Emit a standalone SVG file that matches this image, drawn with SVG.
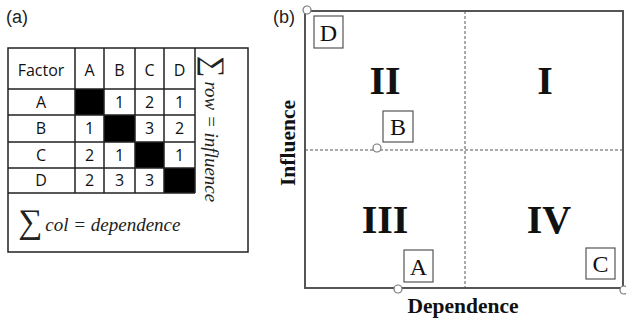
<svg xmlns="http://www.w3.org/2000/svg" width="626" height="320" viewBox="0 0 626 320">
<style>
.sans{font-family:"Open Sans","Liberation Sans",sans-serif;font-size:16px;fill:#111;text-anchor:middle}
.lbl{font-family:"Liberation Sans",Arial,sans-serif;font-size:18px;fill:#222}
.math{font-family:"Liberation Serif","Times New Roman",serif;font-style:italic;font-size:19px;fill:#222}
.tl{fill:none;stroke:#222;stroke-width:1.5}
.blk{fill:#000}
.frame{fill:none;stroke:#555;stroke-width:2}
.dash{stroke:#555;stroke-width:1;stroke-dasharray:3,2;fill:none}
.roman{font-family:"Liberation Serif","Times New Roman",serif;font-weight:bold;font-size:40px;fill:#111;text-anchor:middle}
.ax{font-family:"Liberation Serif","Times New Roman",serif;font-weight:bold;font-size:21.5px;fill:#111;text-anchor:middle}
.box{fill:#fff;stroke:#555;stroke-width:1.2}
.bl{font-family:"Liberation Serif","Times New Roman",serif;font-size:24px;fill:#111;text-anchor:middle}
.pt{fill:#fff;stroke:#777;stroke-width:1.2}
</style>
<g id="panel-a">
<text class="lbl" x="6" y="23">(a)</text>
<rect class="tl" x="8" y="48" width="240" height="204"/>
<g id="table">
<rect class="blk" x="75" y="89" width="29" height="26"/>
<rect class="blk" x="104" y="115" width="31" height="27"/>
<rect class="blk" x="135" y="142" width="29" height="26"/>
<rect class="blk" x="164" y="168" width="31" height="25"/>
<path class="tl" d="M8 89H195M8 115H195M8 142H195M8 168H195M8 193H195M75 48V193M104 48V193M135 48V193M164 48V193M195 48V193"/>
<text class="sans" x="41" y="76">Factor</text>
<text class="sans" x="89.5" y="76">A</text>
<text class="sans" x="119.5" y="76">B</text>
<text class="sans" x="149.5" y="76">C</text>
<text class="sans" x="179.5" y="76">D</text>
<text class="sans" x="41" y="108">A</text>
<text class="sans" x="41" y="134">B</text>
<text class="sans" x="41" y="161">C</text>
<text class="sans" x="41" y="186">D</text>
<text class="sans" x="119.5" y="108">1</text>
<text class="sans" x="149.5" y="108">2</text>
<text class="sans" x="179.5" y="108">1</text>
<text class="sans" x="89.5" y="134">1</text>
<text class="sans" x="149.5" y="134">3</text>
<text class="sans" x="179.5" y="134">2</text>
<text class="sans" x="89.5" y="161">2</text>
<text class="sans" x="119.5" y="161">1</text>
<text class="sans" x="179.5" y="161">1</text>
<text class="sans" x="89.5" y="186">2</text>
<text class="sans" x="119.5" y="186">3</text>
<text class="sans" x="149.5" y="186">3</text>
</g>
<g id="row-sum" transform="translate(204,56) rotate(90)">
<text class="math" x="0" y="0"><tspan font-style="normal" font-size="30">∑</tspan><tspan dx="4" dy="-1">row = influence</tspan></text>
</g>
<g id="col-sum">
<text class="math" x="18" y="233"><tspan font-style="normal" font-size="34">∑</tspan><tspan dx="3" dy="-2">col = dependence</tspan></text>
</g>
</g>
<g id="panel-b">
<text class="lbl" x="273" y="23">(b)</text>
<rect class="frame" x="305" y="11" width="318" height="277"/>
<g id="connectors">
<path class="dash" d="M465 11V288M305 150H623"/>
</g>
<text class="roman" x="385" y="94">II</text>
<text class="roman" x="545" y="94">I</text>
<text class="roman" x="385" y="233">III</text>
<text class="roman" x="549" y="233">IV</text>
<text class="ax" x="463" y="313">Dependence</text>
<text class="ax" transform="translate(295,143) rotate(-90)">Influence</text>
<circle class="pt" cx="307" cy="10" r="4"/>
<circle class="pt" cx="377" cy="148" r="4"/>
<circle class="pt" cx="398" cy="289" r="4"/>
<circle class="pt" cx="624" cy="290" r="4"/>
<g id="node-D"><rect class="box" x="314" y="16" width="29" height="32"/><text class="bl" x="328.5" y="41">D</text></g>
<g id="node-B"><rect class="box" x="383" y="111" width="30" height="31"/><text class="bl" x="398" y="135">B</text></g>
<g id="node-A"><rect class="box" x="404" y="250" width="29" height="32"/><text class="bl" x="418.5" y="275">A</text></g>
<g id="node-C"><rect class="box" x="586" y="248" width="29" height="31"/><text class="bl" x="600.5" y="272">C</text></g>
</g>
</svg>
